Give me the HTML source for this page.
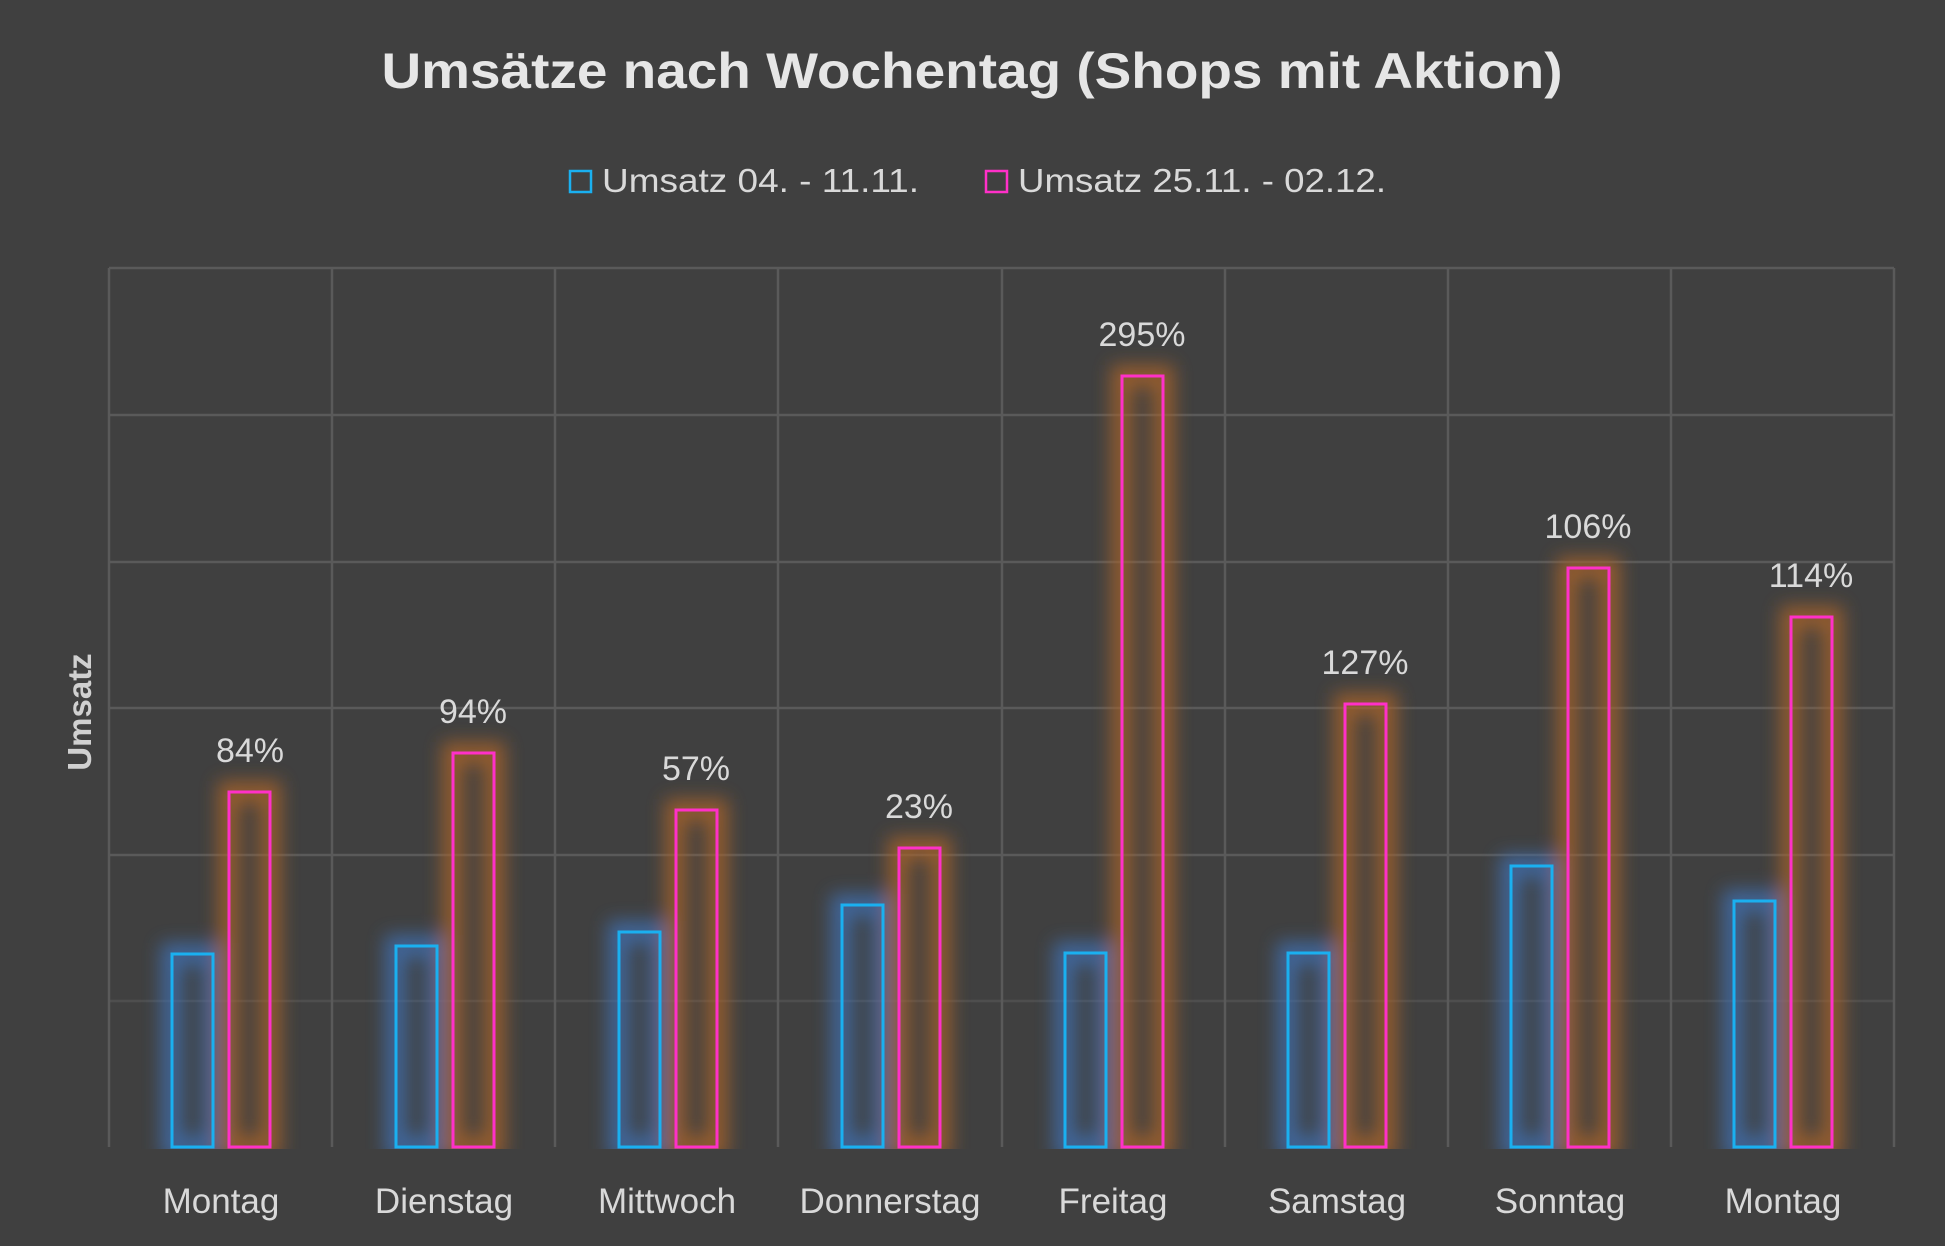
<!DOCTYPE html>
<html><head><meta charset="utf-8"><style>
html,body{margin:0;padding:0;background:#404040;}
svg{display:block;font-family:"Liberation Sans",sans-serif;}
</style></head><body>
<svg width="1945" height="1246" viewBox="0 0 1945 1246" xmlns="http://www.w3.org/2000/svg">
<defs>
<filter id="gb" x="-100%" y="-20%" width="300%" height="140%"><feGaussianBlur stdDeviation="9"/></filter>
</defs>
<rect width="1945" height="1246" fill="#404040"/>
<text x="972" y="88" text-anchor="middle" font-size="50" font-weight="bold" fill="#e6e6e6" textLength="1181" lengthAdjust="spacingAndGlyphs">Umsätze nach Wochentag (Shops mit Aktion)</text>
<rect x="570" y="171" width="21" height="21" fill="none" stroke="#1ab0f0" stroke-width="2.5"/>
<text x="602" y="192" font-size="33" fill="#d9d9d9" textLength="317" lengthAdjust="spacingAndGlyphs">Umsatz 04. - 11.11.</text>
<rect x="986" y="171" width="21" height="21" fill="none" stroke="#ff30c8" stroke-width="2.5"/>
<text x="1018" y="192" font-size="33" fill="#d9d9d9" textLength="368" lengthAdjust="spacingAndGlyphs">Umsatz 25.11. - 02.12.</text>
<g stroke="#5a5a5a" stroke-width="2.5" fill="none">
<line x1="109" y1="268" x2="1894" y2="268"/>
<line x1="109" y1="415" x2="1894" y2="415"/>
<line x1="109" y1="562" x2="1894" y2="562"/>
<line x1="109" y1="708" x2="1894" y2="708"/>
<line x1="109" y1="855" x2="1894" y2="855"/>
<line x1="109" y1="1001" x2="1894" y2="1001" stroke="#4e4e4e"/>
<line x1="109" y1="268" x2="109" y2="1147"/><line x1="332" y1="268" x2="332" y2="1147"/>
<line x1="555" y1="268" x2="555" y2="1147"/><line x1="778" y1="268" x2="778" y2="1147"/>
<line x1="1002" y1="268" x2="1002" y2="1147"/><line x1="1225" y1="268" x2="1225" y2="1147"/>
<line x1="1448" y1="268" x2="1448" y2="1147"/><line x1="1671" y1="268" x2="1671" y2="1147"/>
<line x1="1894" y1="268" x2="1894" y2="1147"/>
</g>
<text transform="translate(91,712) rotate(-90)" text-anchor="middle" font-size="33" font-weight="bold" fill="#d0d0d0">Umsatz</text>
<g filter="url(#gb)" fill="none" stroke-width="22" opacity="0.8">
<g stroke="#3f6fb0">
<rect x="172" y="954" width="41" height="193"/><rect x="396" y="946" width="41" height="201"/>
<rect x="619" y="932" width="41" height="215"/><rect x="842" y="905" width="41" height="242"/>
<rect x="1065" y="953" width="41" height="194"/><rect x="1288" y="953" width="41" height="194"/>
<rect x="1511" y="866" width="41" height="281"/><rect x="1734" y="901" width="41" height="246"/>
</g>
<g stroke="#a8642a">
<rect x="229" y="792" width="41" height="355"/><rect x="453" y="753" width="41" height="394"/>
<rect x="676" y="810" width="41" height="337"/><rect x="899" y="848" width="41" height="299"/>
<rect x="1122" y="376" width="41" height="771"/><rect x="1345" y="704" width="41" height="443"/>
<rect x="1568" y="568" width="41" height="579"/><rect x="1791" y="617" width="41" height="530"/>
</g>
</g>
<rect x="100" y="1149" width="1800" height="97" fill="#404040"/>
<g fill="none" stroke-width="3">
<g stroke="#1ab0f0">
<rect x="172" y="954" width="41" height="193"/><rect x="396" y="946" width="41" height="201"/>
<rect x="619" y="932" width="41" height="215"/><rect x="842" y="905" width="41" height="242"/>
<rect x="1065" y="953" width="41" height="194"/><rect x="1288" y="953" width="41" height="194"/>
<rect x="1511" y="866" width="41" height="281"/><rect x="1734" y="901" width="41" height="246"/>
</g>
<g stroke="#ff30c8">
<rect x="229" y="792" width="41" height="355"/><rect x="453" y="753" width="41" height="394"/>
<rect x="676" y="810" width="41" height="337"/><rect x="899" y="848" width="41" height="299"/>
<rect x="1122" y="376" width="41" height="771"/><rect x="1345" y="704" width="41" height="443"/>
<rect x="1568" y="568" width="41" height="579"/><rect x="1791" y="617" width="41" height="530"/>
</g>
</g>
<g font-size="34" fill="#d9d9d9" text-anchor="middle">
<text x="250" y="762">84%</text><text x="473" y="723">94%</text>
<text x="696" y="780">57%</text><text x="919" y="818">23%</text>
<text x="1142" y="346">295%</text><text x="1365" y="674">127%</text>
<text x="1588" y="538">106%</text><text x="1811" y="587">114%</text>
</g>
<g font-size="35" fill="#d9d9d9" text-anchor="middle">
<text x="221" y="1213">Montag</text><text x="444" y="1213">Dienstag</text>
<text x="667" y="1213">Mittwoch</text><text x="890" y="1213">Donnerstag</text>
<text x="1113" y="1213">Freitag</text><text x="1337" y="1213">Samstag</text>
<text x="1560" y="1213">Sonntag</text><text x="1783" y="1213">Montag</text>
</g>
</svg>
</body></html>
